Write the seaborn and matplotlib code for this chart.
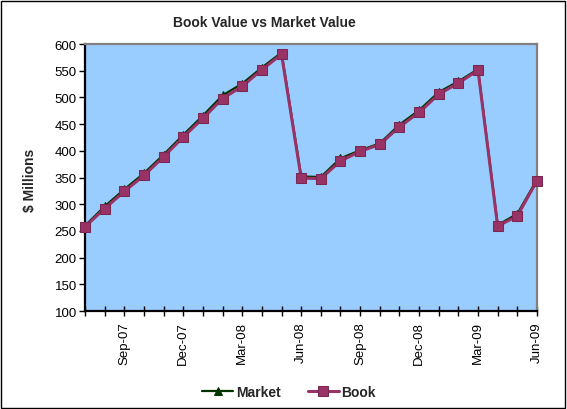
import numpy as np
import pandas as pd
import seaborn as sns
import matplotlib.pyplot as plt
from matplotlib.patches import Rectangle

# monthly data Jul-07 .. Jun-09
months = ['Jul-07', 'Aug-07', 'Sep-07', 'Oct-07', 'Nov-07', 'Dec-07',
          'Jan-08', 'Feb-08', 'Mar-08', 'Apr-08', 'May-08', 'Jun-08',
          'Jul-08', 'Aug-08', 'Sep-08', 'Oct-08', 'Nov-08', 'Dec-08',
          'Jan-09', 'Feb-09', 'Mar-09', 'Apr-09', 'May-09', 'Jun-09']
book = [258, 292, 324, 354, 389, 426, 461, 498, 521, 552, 581, 349,
        348, 381, 399, 412, 445, 472, 506, 527, 551, 259, 278, 344]
market = [260, 296, 328, 358, 393, 430, 466, 504, 526, 556, 584, 352,
          351, 386, 401, 414, 449, 476, 510, 530, 553, 261, 282, 346]
label_months = ['Sep-07', 'Dec-07', 'Mar-08', 'Jun-08',
                'Sep-08', 'Dec-08', 'Mar-09', 'Jun-09']

df = pd.DataFrame({'pos': np.arange(len(months)), 'month': months,
                   'Market': market, 'Book': book})

sns.set_theme(style='white')
plt.rcParams['font.family'] = ['Liberation Sans', 'DejaVu Sans']

fig = plt.figure(figsize=(5.67, 4.10), dpi=100)
ax = fig.add_axes([0.150, 0.239, 0.797, 0.651])
ax.set_facecolor('#99CCFF')

sns.lineplot(data=df, x='pos', y='Market', ax=ax, color='#003300', lw=1.6,
             marker='^', markersize=6, markeredgecolor='#003300', label='Market',
             clip_on=False, zorder=3)
sns.lineplot(data=df, x='pos', y='Book', ax=ax, color='#993366', lw=2.2,
             marker='s', markersize=7, markeredgecolor='#7a2850', label='Book',
             clip_on=False, zorder=4)

ax.set_xlim(0, len(months) - 1)
ax.set_ylim(100, 600)
ax.set_yticks(np.arange(100, 601, 50))
ax.set_xticks(df['pos'])
ax.set_xticklabels([m if m in label_months else '' for m in months],
                   rotation=90, fontsize=9.5)
ax.tick_params(axis='y', labelsize=9.5, direction='out', length=4, width=1,
               left=True, pad=2, colors='black')
ax.tick_params(axis='x', direction='inout', length=7, width=1, bottom=True,
               pad=4, colors='black')
ax.set_xlabel('')
ax.set_ylabel('')
for s in ['left', 'bottom']:
    ax.spines[s].set_color('black')
    ax.spines[s].set_linewidth(1.6)
for s in ['top', 'right']:
    ax.spines[s].set_color('#808080')
    ax.spines[s].set_linewidth(1.6)
ax.grid(False)

ax.get_legend().remove()
h, l = ax.get_legend_handles_labels()
leg = fig.legend(h, l, loc='center', bbox_to_anchor=(0.51, 0.042), ncol=2,
                 frameon=False, handlelength=2.2, columnspacing=2.0,
                 handletextpad=0.2, prop={'weight': 'bold', 'size': 10})

fig.text(0.467, 0.943, 'Book Value vs Market Value', ha='center', va='center',
         fontsize=10, fontweight='bold')
fig.text(0.053, 0.56, '$ Millions', ha='center', va='center', rotation=90,
         fontsize=10, fontweight='bold')

fig.patches.append(Rectangle((0.002, 0.003), 0.994, 0.993, transform=fig.transFigure,
                             fill=False, edgecolor='black', lw=1))

fig.savefig('out.png', dpi=100)
